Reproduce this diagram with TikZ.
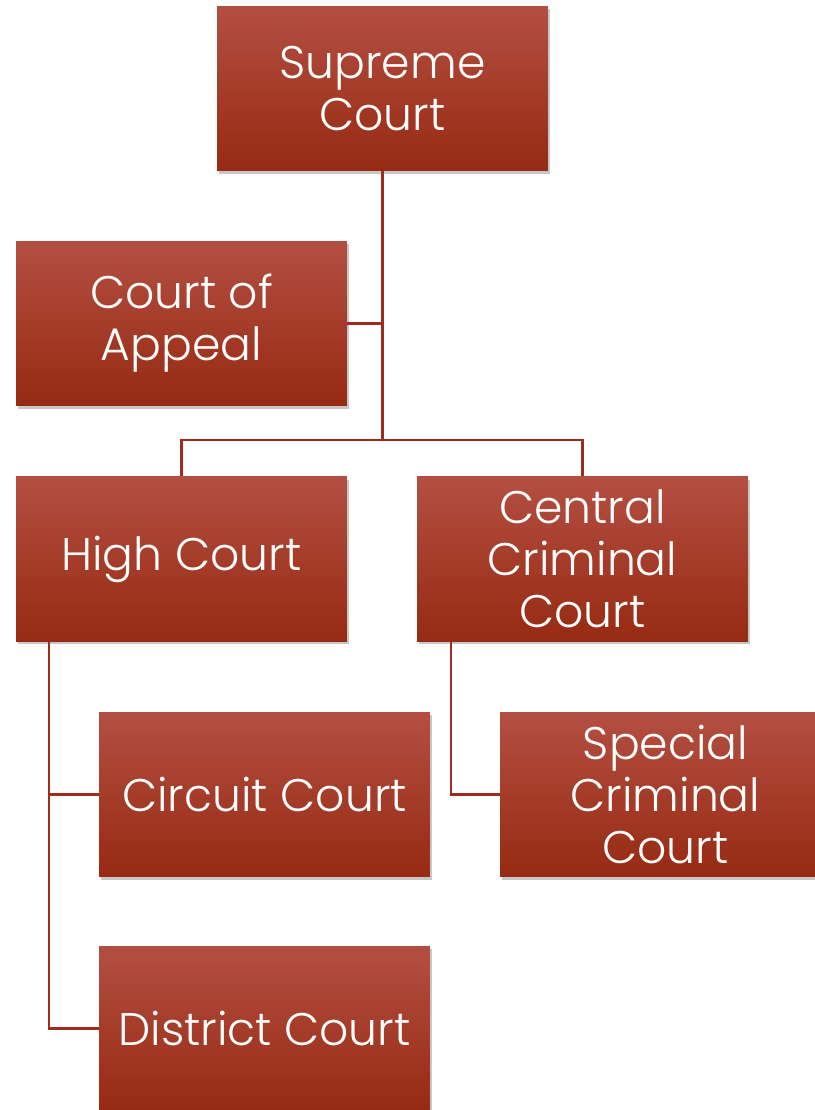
\documentclass[tikz,border=0pt]{standalone}
\usepackage{fontspec}
\setmainfont{Poppins}[UprightFont=* Light]
\usetikzlibrary{shadows}
\definecolor{courttop}{HTML}{B34F42}
\definecolor{courtbot}{HTML}{972A12}
\definecolor{linkred}{HTML}{9B2D1C}
\tikzstyle{court}=[rectangle,minimum width=6.62cm,minimum height=3.3cm,inner sep=0pt,
  top color=courttop,bottom color=courtbot,text=white,align=center,
  font=\fontsize{26}{29.5}\selectfont,
  drop shadow={shadow xshift=0.04cm,shadow yshift=-0.06cm,fill=black,opacity=0.22}]
\tikzstyle{link}=[draw=linkred,line width=1.2pt]

\begin{document}
\begin{tikzpicture}[x=0.02cm,y=-0.02cm]
\useasboundingbox (0,0) rectangle (815,1110);

\node[court] (sup) at (382.5, 88.5) {Supreme\\Court};
\node[court] (app) at (181.5, 323.5) {Court of\\Appeal};
\node[court] (high) at (181.5, 559) {High Court};
\node[court] (ccc) at (582.5, 559) {Central\\Criminal\\Court};
\node[court] (circ) at (264.5, 794.5) {Circuit Court};
\node[court] (scc) at (665.5, 794.5) {Special\\Criminal\\Court};
\node[court] (dist) at (264.5, 1028.5) {District Court};

\coordinate (j1) at (382.5, 440);
\coordinate (h1) at (49, 641);
\coordinate (c1) at (451, 641);

\draw[link] (sup.south) -- (j1);
\draw[link] (app.east) -- (app.east -| sup.south);
\draw[link] (j1) -| (high.north);
\draw[link] (j1) -| (ccc.north);

\draw[link] (h1) |- (circ.west);
\draw[link] (h1) |- (dist.west);
\draw[link] (c1) |- (scc.west);

\end{tikzpicture}
\end{document}
